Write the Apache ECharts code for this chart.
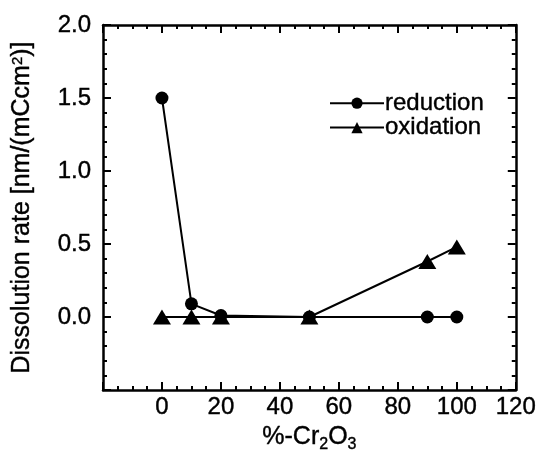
<!DOCTYPE html>
<html>
<head>
<meta charset="utf-8">
<script src="https://cdn.jsdelivr.net/npm/echarts@6/dist/echarts.min.js"></script>
<style>
  html, body { margin: 0; padding: 0; background: #fff; }
  #chart { width: 539px; height: 467px; }
</style>
</head>
<body>
<div id="chart"></div>
<script>
// Composition (% Cr2O3) and dissolution rates
const cr2o3Percent = [0, 10, 20, 50, 90, 100];
const reductionRate = [1.5, 0.09, 0.01, 0.0, 0.0, 0.0];
const oxidationRate = [0.0, 0.0, 0.0, 0.0, 0.38, 0.48];
const seriesNames = ['reduction', 'oxidation'];

const FONT = '"Liberation Sans", Arial, Helvetica, sans-serif';
const INK = { color: '#000', textBorderColor: '#000', textBorderWidth: 0.4 };

function pairs(xs, ys) {
  return xs.map((x, i) => [x, ys[i]]);
}

const chart = echarts.init(document.getElementById('chart'));

const xBase = {
  type: 'value', min: -20, max: 120, interval: 20,
  axisLine: { show: true, onZero: false, lineStyle: { color: '#000', width: 2.5 } },
  axisTick: { show: true, inside: true, length: 8, lineStyle: { color: '#000', width: 2 } },
  minorTick: { show: true, splitNumber: 4, length: 4, lineStyle: { color: '#000', width: 2 } },
  splitLine: { show: false }
};
const yBase = {
  type: 'value', min: -0.5, max: 2.0, interval: 0.5,
  axisLine: { show: true, onZero: false, lineStyle: { color: '#000', width: 2.5 } },
  axisTick: { show: true, inside: true, length: 8, lineStyle: { color: '#000', width: 2 } },
  minorTick: { show: true, splitNumber: 5, length: 4, lineStyle: { color: '#000', width: 2 } },
  splitLine: { show: false }
};

chart.setOption({
  backgroundColor: '#fff',
  animation: false,
  grid: { left: 103, right: 21, top: 25, bottom: 77 },
  legend: {
    orient: 'vertical',
    left: 324,
    top: 86,
    itemWidth: 54,
    itemHeight: 14,
    itemGap: 0,
    textStyle: Object.assign({ fontFamily: FONT, fontSize: 24, lineHeight: 24, padding: [0, 0, 0, -4] }, INK),
    data: seriesNames
  },
  xAxis: [
    Object.assign({}, xBase, {
      position: 'bottom',
      axisLabel: Object.assign({
        fontFamily: FONT, fontSize: 24, margin: 5,
        formatter: v => (v < 0 ? '' : String(v))
      }, INK),
      name: '{a|%-Cr}{s|2}{a|O}{s|3}',
      nameLocation: 'middle',
      nameGap: 30,
      nameTextStyle: {
        rich: {
          a: Object.assign({ fontFamily: FONT, fontSize: 25 }, INK),
          s: Object.assign({ fontFamily: FONT, fontSize: 16, verticalAlign: 'bottom', padding: [16, 0, 0, 0] }, INK)
        }
      }
    }),
    Object.assign({}, xBase, { position: 'top', axisLabel: { show: false } })
  ],
  yAxis: [
    Object.assign({}, yBase, {
      position: 'left',
      axisLabel: Object.assign({
        fontFamily: FONT, fontSize: 24, margin: 12,
        formatter: v => (v < 0 ? '' : v.toFixed(1))
      }, INK),
      name: '{a|Dissolution rate [nm/(mCcm}{s|2}{a|)]}',
      nameLocation: 'middle',
      nameGap: 68,
      nameRotate: 90,
      nameTextStyle: {
        rich: {
          a: Object.assign({ fontFamily: FONT, fontSize: 25 }, INK),
          s: Object.assign({ fontFamily: FONT, fontSize: 15, verticalAlign: 'top', padding: [0, 0, 10, 0] }, INK)
        }
      }
    }),
    Object.assign({}, yBase, { position: 'right', axisLabel: { show: false } })
  ],
  series: [
    {
      name: seriesNames[0],
      type: 'line',
      data: pairs(cr2o3Percent, reductionRate),
      symbol: 'circle',
      symbolSize: 13,
      itemStyle: { color: '#000' },
      lineStyle: { color: '#000', width: 2 },
      z: 3
    },
    {
      name: seriesNames[1],
      type: 'line',
      data: pairs(cr2o3Percent, oxidationRate),
      symbol: 'triangle',
      symbolSize: [18, 15],
      itemStyle: { color: '#000' },
      lineStyle: { color: '#000', width: 2 },
      z: 4
    }
  ]
});
</script>
</body>
</html>
